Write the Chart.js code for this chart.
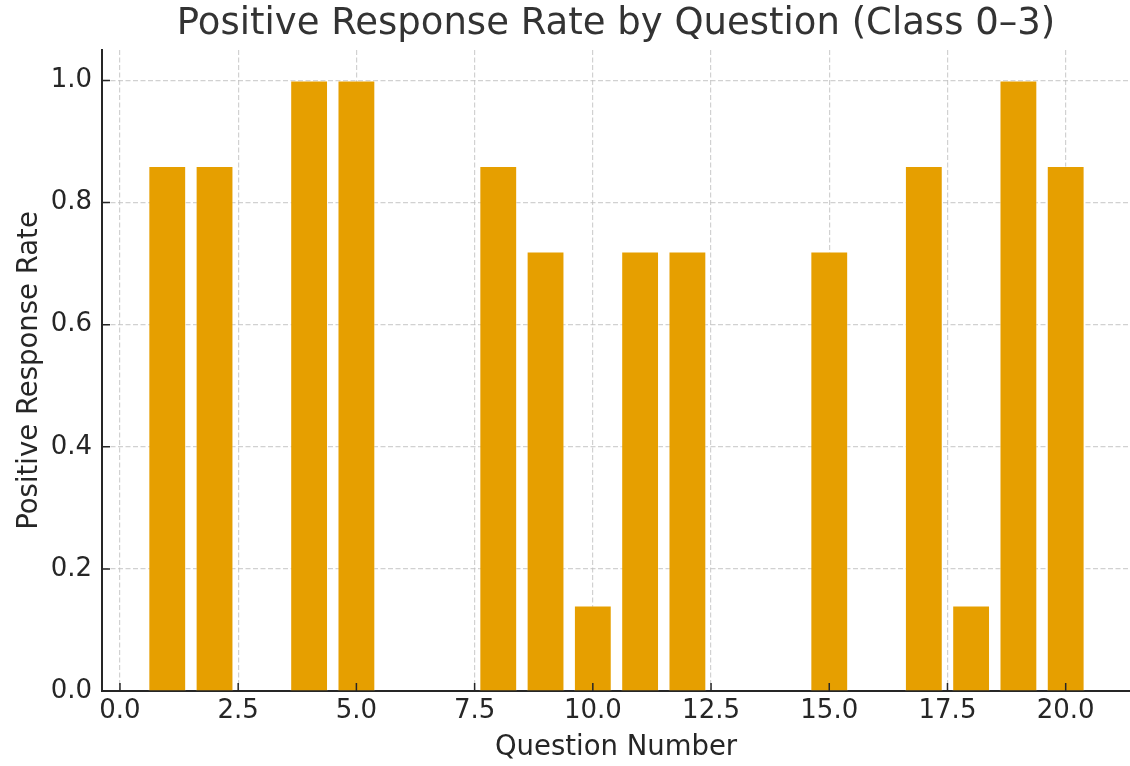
<!DOCTYPE html>
<html>
<head>
<meta charset="utf-8">
<title>Positive Response Rate by Question</title>
<script src="https://cdn.jsdelivr.net/npm/chart.js@4.4.0/dist/chart.umd.min.js"></script>
<style>
    html, body {margin: 0; padding: 0; background: #ffffff;}
    #chart {display: block;}
</style>
</head>
<body>
<canvas id="chart" width="1130" height="766"></canvas>
<script>
// question numbers and the share of positive answers (0 = no bar)
const questions = [1, 2, 3, 4, 5, 6, 7, 8, 9, 10, 11, 12, 13, 14, 15, 16, 17, 18, 19, 20];
const positiveRate = [0.86, 0.86, 0, 1.0, 1.0, 0, 0, 0.86, 0.72, 0.14, 0.72, 0.72, 0, 0, 0.72, 0, 0.86, 0.14, 1.0, 0.86];

const xTicks = [0, 2.5, 5, 7.5, 10, 12.5, 15, 17.5, 20];
const yTicks = [0, 0.2, 0.4, 0.6, 0.8, 1.0];

const fontFamily = "'DejaVu Sans', sans-serif";
const textColor = "#262626";
const gridColor = "rgba(190, 190, 190, 0.7)";

// matplotlib style: short tick marks pointing into the plot
const innerTicks = {
    id: "innerTicks",
    afterDraw(chart) {
        const {ctx, chartArea, scales} = chart;
        ctx.save();
        ctx.strokeStyle = textColor;
        ctx.lineWidth = 1.5;
        ctx.beginPath();
        xTicks.forEach(v => {
            const px = scales.x.getPixelForValue(v);
            ctx.moveTo(px, chartArea.bottom);
            ctx.lineTo(px, chartArea.bottom - 8);
        });
        yTicks.forEach(v => {
            const py = scales.y.getPixelForValue(v);
            ctx.moveTo(chartArea.left, py);
            ctx.lineTo(chartArea.left + 8, py);
        });
        ctx.stroke();
        ctx.restore();
    }
};

new Chart(document.getElementById("chart"), {
    type: "bar",
    data: {
        datasets: [{
            label: "Positive Response Rate",
            data: questions.map((q, i) => ({x: q, y: positiveRate[i]})),
            backgroundColor: "#E69F00",
            borderColor: "rgba(255, 255, 255, 0.45)",
            borderWidth: 1,
            categoryPercentage: 0.8,
            barPercentage: 1.0
        }]
    },
    options: {
        responsive: false,
        animation: false,
        devicePixelRatio: 1,
        layout: {padding: {left: 0, right: 0, top: 0, bottom: 0}},
        plugins: {
            legend: {display: false},
            tooltip: {enabled: false},
            title: {
                display: true,
                text: "Positive Response Rate by Question (Class 0–3)",
                fullSize: false,
                color: "#333333",
                font: {family: fontFamily, size: 37, weight: "normal", lineHeight: 1.0},
                padding: {top: 6, bottom: 7}
            }
        },
        scales: {
            x: {
                type: "linear",
                min: -0.38,
                max: 21.36,
                offset: false,
                z: 1,
                afterBuildTicks: scale => {
                    scale.ticks = xTicks.map(v => ({value: v}));
                },
                afterFit: scale => {
                    scale.height = 75;
                },
                grid: {color: gridColor, lineWidth: 1.2, drawTicks: false, offset: false},
                border: {display: true, color: textColor, width: 2, dash: [5, 2.5]},
                ticks: {
                    color: textColor,
                    padding: 5,
                    maxRotation: 0,
                    font: {family: fontFamily, size: 26},
                    callback: v => Number(v).toFixed(1)
                },
                title: {
                    display: true,
                    text: "Question Number",
                    color: textColor,
                    font: {family: fontFamily, size: 27.5, lineHeight: 1.2},
                    padding: {top: 0, bottom: 1.5}
                }
            },
            y: {
                min: 0,
                max: 1.05,
                z: 1,
                afterBuildTicks: scale => {
                    scale.ticks = yTicks.map(v => ({value: v}));
                },
                afterFit: scale => {
                    scale.width = 102;
                },
                grid: {color: gridColor, lineWidth: 1.2, drawTicks: false},
                border: {display: true, color: textColor, width: 2, dash: [5, 2.5]},
                ticks: {
                    color: textColor,
                    padding: 10,
                    font: {family: fontFamily, size: 26},
                    callback: v => Number(v).toFixed(1)
                },
                title: {
                    display: true,
                    text: "Positive Response Rate",
                    color: textColor,
                    font: {family: fontFamily, size: 27.5, lineHeight: 1.2},
                    padding: {top: 13.5, bottom: 0}
                }
            }
        }
    },
    plugins: [innerTicks]
});
</script>
</body>
</html>
